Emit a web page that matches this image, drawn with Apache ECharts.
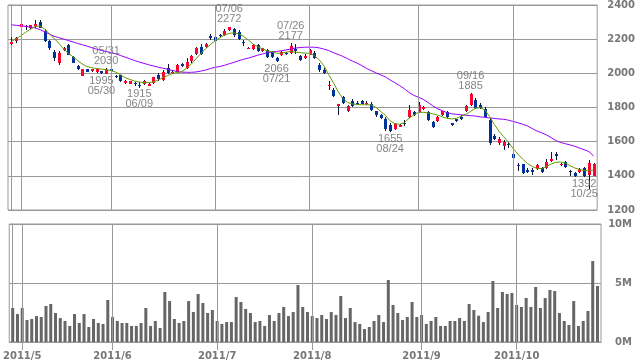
<!DOCTYPE html>
<html><head><meta charset="utf-8">
<script src="https://cdn.jsdelivr.net/npm/echarts@6/dist/echarts.min.js"></script>
<style>html,body{margin:0;padding:0;background:#fff}#c{width:638px;height:362px}</style>
</head><body><div id="c"></div>
<script>
// trading days by month (2011)
const apr = [27,28];
const may = [2,6,9,10,11,12,13,16,17,18,19,20,23,24,25,26,27,30,31];
const jun = [1,2,3,6,7,8,9,10,13,14,15,16,17,20,21,22,23,24,27,28,29,30];
const jul = [1,4,5,6,7,8,11,12,13,14,15,19,20,21,22,25,26,27,28,29];
const aug = [1,2,3,4,5,8,9,10,11,12,15,16,17,18,19,22,23,24,25,26,29,30,31];
const sep = [1,2,5,6,7,8,9,12,13,14,15,16,20,21,22,26,27,28,29,30];
const oct = [3,4,5,6,7,11,12,13,14,17,18,19,20,21,24,25,26,27];
const months = [[4,apr],[5,may],[6,jun],[7,jul],[8,aug],[9,sep],[10,oct]];
const dates = [];
months.forEach(([m, ds]) => ds.forEach(d => dates.push('2011/' + m + '/' + d)));

const open = [2170,2190,2272,2275,2265,2275,2303,2249,2190,2125, 2063,2137,2163,2093,2043,1987,2025,2013,2005,2012, 1998,2025,1986,1988,1943,1940,1944,1932,1936,1928, 1942,1992,1963,2030,2005,2008,2054,2033,2071,2114, 2155,2157,2220,2213,2225,2222,2253,2260,2244,2184, 2146,2141,2166,2129,2135,2124,2092,2110,2121,2118, 2140,2100,2087,2110,2120,2046,2022,1925,1905,1811, 1860,1780,1840,1828,1840,1819,1821,1779,1755,1735, 1700,1672,1687,1712,1742,1772,1773,1792,1771,1717, 1722,1757,1771,1708,1732,1745,1780,1812,1845,1812, 1792,1728,1635,1592,1572,1586,1530,1465,1468,1437, 1432,1440,1446,1443,1485,1526,1462,1480,1430,1418, 1420,1445,1405,1400];
const close = [2186,2205,2288,2272,2280,2291,2268,2187,2150,2088, 2117,2148,2110,2063,2025,2024,2010,2023,2027,2002, 2025,2015,1984,1955,1957,1953,1940,1928,1957,1940, 1976,1965,2010,2001,2010,2046,2040,2068,2104,2147, 2115,2174,2207,2192,2219,2248,2270,2222,2200,2180, 2150,2166,2133,2147,2094,2098,2070,2127,2114,2162, 2130,2076,2100,2135,2092,2017,2002,1934,1870,1818, 1827,1810,1808,1819,1823,1826,1788,1757,1738,1677, 1665,1705,1700,1703,1786,1757,1817,1802,1727,1688, 1743,1778,1745,1695,1722,1735,1810,1880,1797,1797, 1745,1592,1617,1618,1600,1582,1505,1455,1417,1424, 1422,1465,1420,1483,1499,1517,1468,1452,1427,1398, 1441,1398,1476,1472];
const low = [2165,2180,2264,2255,2258,2268,2265,2182,2135,2075, 2050,2132,2105,2058,2020,1983,2005,2008,2002,1995, 1997,2012,1975,1950,1938,1937,1925,1915,1930,1924, 1938,1958,1958,1995,1998,2003,2035,2028,2060,2108, 2108,2150,2194,2185,2214,2218,2250,2215,2195,2160, 2144,2135,2127,2125,2088,2092,2066,2100,2110,2115, 2115,2070,2082,2105,2085,2010,1995,1905,1864,1758, 1822,1775,1802,1812,1818,1812,1782,1745,1732,1665, 1655,1668,1683,1690,1738,1750,1768,1785,1722,1680, 1718,1752,1738,1690,1715,1725,1775,1808,1790,1790, 1740,1578,1610,1580,1550,1565,1485,1431,1412,1418, 1407,1436,1415,1440,1481,1492,1458,1445,1398,1395, 1415,1392,1320,1397];
const high = [2212,2214,2307,2284,2284,2311,2313,2260,2197,2135, 2130,2152,2170,2100,2047,2028,2028,2027,2029,2015, 2030,2029,1992,1992,1960,1958,1950,1950,1962,1945, 1980,2000,2018,2055,2018,2052,2060,2088,2110,2155, 2174,2180,2232,2235,2232,2257,2272,2265,2252,2195, 2152,2174,2174,2150,2140,2132,2096,2130,2124,2177, 2170,2105,2112,2140,2130,2058,2030,1954,1912,1822, 1868,1815,1850,1838,1845,1838,1830,1782,1760,1744, 1710,1710,1705,1725,1815,1778,1835,1810,1778,1722, 1748,1782,1778,1712,1735,1755,1815,1885,1858,1825, 1805,1737,1645,1625,1612,1600,1535,1474,1472,1445, 1446,1470,1452,1497,1539,1539,1475,1488,1433,1425, 1447,1450,1495,1478];
const maShort = [2187,2202,2220,2240,2257,2275,2276,2260,2231,2205, 2176,2144,2118,2097,2074,2054,2039,2033,2028,2025, 2022,2016,2007,1993,1975,1964,1955,1949,1946,1946, 1949,1961,1975,1987,1999,2004,2010,2030,2054,2086, 2115,2144,2167,2191,2208,2223,2234,2237,2231,2217, 2196,2173,2156,2144,2132,2127,2118,2117,2124,2128, 2124,2121,2119,2117,2103,2080,2045,1993,1946,1894, 1853,1830,1821,1818,1816,1816,1815,1801,1777,1754, 1722,1705,1702,1711,1737,1757,1772,1772,1768,1763, 1756,1745,1737,1733,1737,1748,1760,1777,1795,1799, 1786,1748,1702,1661,1629,1597,1559,1527,1498,1473, 1455,1444,1442,1455,1469,1479,1481,1475,1460,1446, 1437,1431,1430,1434];
const maLong = [2284,2281,2278,2275,2271,2266,2256,2244,2230,2217, 2209,2201,2192,2184,2175,2167,2159,2150,2141,2134, 2128,2121,2114,2105,2095,2085,2075,2066,2058,2050, 2043,2036,2030,2024,2017,2010,2007,2006,2006,2008, 2013,2019,2028,2035,2040,2047,2056,2064,2074,2082, 2089,2097,2106,2113,2121,2125,2128,2132,2137,2142, 2148,2151,2153,2153,2153,2149,2142,2134,2121,2111, 2099,2086,2072,2060,2046,2029,2016,2003,1991,1979, 1961,1945,1928,1910,1888,1871,1860,1848,1829,1810, 1793,1782,1770,1763,1760,1757,1755,1752,1750,1745, 1743,1739,1736,1733,1731,1726,1718,1711,1702,1692, 1677,1663,1652,1640,1624,1606,1596,1588,1581,1573, 1563,1553,1542,1516];
const volumeM = [2.88,2.37,2.88,1.86,1.95,2.20,2.12,3.05,3.22,2.46, 2.03,1.78,1.36,2.37,1.61,2.37,1.27,1.95,1.61,1.53, 3.56,2.12,1.78,1.61,1.61,1.36,1.36,1.61,2.88,1.36, 1.78,1.19,4.24,3.47,1.95,1.61,1.78,3.47,2.54,4.07, 3.31,2.46,2.71,1.78,1.53,1.69,1.69,3.81,3.39,2.80, 2.46,1.69,1.78,1.36,2.29,1.78,2.46,2.97,2.20,2.54, 4.83,2.97,2.54,2.20,2.03,2.29,1.95,2.54,2.29,3.90, 2.03,2.88,1.69,1.53,1.10,1.27,1.78,2.29,1.69,5.25, 3.14,2.46,1.86,2.12,3.39,2.12,2.29,1.53,1.78,2.12, 1.36,1.36,1.78,1.78,2.03,1.78,3.22,2.71,2.23,1.69, 2.54,5.17,2.88,4.24,4.07,4.15,3.14,2.97,3.73,2.97, 4.66,2.88,3.73,4.41,4.32,2.46,1.78,1.44,3.47,1.36, 1.78,2.63,6.86,4.75];
const monthLabels = ['2011/5','2011/6','2011/7','2011/8','2011/9','2011/10'];
const highMarks = [20, 46, 59, 97];
const lowMarks = [19, 27, 56, 80, 121];

// first trading day index of each labelled month
const monthIdx = monthLabels.map(lbl => {
  const m = lbl.split('/')[1];
  return dates.findIndex(d => d.split('/')[1] === m);
});
const mmdd = i => { const p = dates[i].split('/'); return (p[1].length<2?'0':'')+p[1]+'/'+(p[2].length<2?'0':'')+p[2]; };

const RED = '#ff0033', BLUE = '#003399', WICK = '#111133', GRID = '#999999', TXT = '#777777';
const XMIN = -0.73, XMAX = 123.74;

const candleData = dates.map((d, i) => [i, open[i], close[i], low[i], high[i]]);
const markData = highMarks.map(i => ({value: [i, high[i]], label: {position: 'top', distance: 2, formatter: mmdd(i) + '\n' + high[i]}}))
  .concat(lowMarks.map(i => ({value: [i, low[i]], label: {position: 'bottom', distance: 1, formatter: low[i] + '\n' + mmdd(i)}})));
const vLines = monthIdx.map(i => ({xAxis: i}));
const mlStyle = {symbol: ['none','none'], silent: true, animation: false, label: {show: false},
  lineStyle: {color: GRID, type: 'solid', width: 1}, data: vLines};

const chart = echarts.init(document.getElementById('c'), null, {renderer: 'canvas'});
chart.setOption({
  animation: false,
  backgroundColor: '#fff',
  grid: [
    {left: 8, top: 4, width: 593, height: 206, show: true, borderColor: GRID, borderWidth: 1, backgroundColor: '#fff'},
    {left: 8, top: 224, width: 593, height: 118, show: true, borderColor: GRID, borderWidth: 1, backgroundColor: '#fff'}
  ],
  xAxis: [
    {gridIndex: 0, type: 'value', min: XMIN, max: XMAX, axisLine: {show: false}, axisTick: {show: false}, axisLabel: {show: false}, splitLine: {show: false}},
    {gridIndex: 1, type: 'value', min: XMIN, max: XMAX,
      axisLine: {show: true, lineStyle: {color: GRID}},
      axisTick: {show: true, customValues: monthIdx, length: 8, lineStyle: {color: GRID}},
      axisLabel: {customValues: monthIdx, formatter: v => monthLabels[monthIdx.indexOf(Math.round(v))], margin: 9,
        fontFamily: 'DejaVu Sans', fontWeight: 'bold', fontSize: 10, color: TXT},
      splitLine: {show: false}}
  ],
  yAxis: [
    {gridIndex: 0, type: 'value', position: 'right', min: 1200, max: 2400, interval: 200,
      axisLine: {show: true, lineStyle: {color: GRID}}, axisTick: {show: true, length: 5, lineStyle: {color: GRID}},
      axisLabel: {margin: 10, formatter: v => String(v), fontFamily: 'DejaVu Sans', fontWeight: 'bold', fontSize: 10, color: TXT},
      splitLine: {show: true, lineStyle: {color: GRID, width: 1}}},
    {gridIndex: 1, type: 'value', position: 'right', min: 0, max: 10, interval: 5,
      axisLine: {show: true, lineStyle: {color: GRID}}, axisTick: {show: true, length: 7, lineStyle: {color: GRID}},
      axisLabel: {formatter: '{value}M', align: 'right', margin: 31, fontFamily: 'DejaVu Sans', fontWeight: 'bold', fontSize: 10, color: TXT},
      splitLine: {show: true, lineStyle: {color: GRID, width: 1}}}
  ],
  series: [
    {type: 'line', xAxisIndex: 0, yAxisIndex: 0, data: [], z: 1, markLine: mlStyle},
    {type: 'line', xAxisIndex: 1, yAxisIndex: 1, data: [], z: 1, markLine: mlStyle},
    {type: 'bar', xAxisIndex: 1, yAxisIndex: 1, barWidth: 3, itemStyle: {color: '#666666'},
      data: volumeM.map((v, i) => [i, v]), z: 2},
    {type: 'custom', xAxisIndex: 0, yAxisIndex: 0, z: 2, data: candleData,
      encode: {x: 0, y: [1,2,3,4]},
      renderItem: (params, api) => {
        const x = api.value(0), o = api.value(1), c = api.value(2), l = api.value(3), h = api.value(4);
        const pO = api.coord([x, o]), pC = api.coord([x, c]), pL = api.coord([x, l]), pH = api.coord([x, h]);
        const cx = Math.round(pO[0]);
        const t = Math.round(Math.min(pO[1], pC[1])), b = Math.round(Math.max(pO[1], pC[1]));
        return {type: 'group', children: [
          {type: 'line', shape: {x1: cx + 0.5, y1: Math.round(pH[1]), x2: cx + 0.5, y2: Math.round(pL[1])}, style: {stroke: WICK, lineWidth: 1}},
          {type: 'rect', shape: {x: cx - 1, y: t, width: 3, height: Math.max(1, b - t)}, style: {fill: c >= o ? RED : BLUE}}
        ]};
      }},
    {type: 'line', xAxisIndex: 0, yAxisIndex: 0, z: 3, showSymbol: false, data: maLong.map((v, i) => [i, v]),
      lineStyle: {color: '#9900ff', width: 1}, itemStyle: {color: '#9900ff'}},
    {type: 'line', xAxisIndex: 0, yAxisIndex: 0, z: 3, showSymbol: false, data: maShort.map((v, i) => [i, v]),
      lineStyle: {color: '#669900', width: 1}, itemStyle: {color: '#669900'}},
    {type: 'scatter', xAxisIndex: 0, yAxisIndex: 0, z: 4, symbol: 'circle', symbolSize: 1,
      itemStyle: {color: 'rgba(0,0,0,0)'}, data: markData,
      label: {show: true, fontFamily: 'Liberation Sans', fontSize: 11, lineHeight: 10, color: '#666666'}}
  ]
});
</script></body></html>
